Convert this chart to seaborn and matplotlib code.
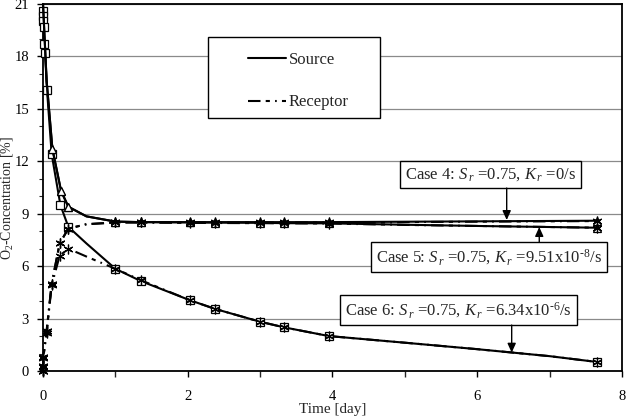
import numpy as np
import pandas as pd
import matplotlib
matplotlib.use("Agg")
import matplotlib.pyplot as plt
from matplotlib.lines import Line2D
from matplotlib.patches import Rectangle
from matplotlib.ticker import MultipleLocator
import seaborn as sns

# ---------------- data ----------------
# Case 6 source (squares)
t_c6_src = [0, 0.002, 0.004, 0.006, 0.008, 0.018, 0.028, 0.055, 0.12, 0.24, 0.35, 0.6,
            1.0, 1.35, 2.03, 2.38, 3.0, 3.33, 3.95, 5.0, 6.0, 7.0, 7.65]
o2_c6_src = [21.0, 20.6, 20.3, 20.0, 19.7, 18.7, 18.2, 16.1, 12.4, 9.5, 8.25, 7.3,
             5.85, 5.15, 4.05, 3.55, 2.82, 2.5, 2.0, 1.62, 1.25, 0.85, 0.52]
mk_c6_src = [False, True, True, True, True, True, True, True, True, True, True, False,
             True, True, True, True, True, True, True, False, False, False, True]

# Case 6 receptor (asterisks)
t_c6_rec = [0, 0.002, 0.004, 0.05, 0.12, 0.23, 0.35, 0.6, 1.0, 1.35, 2.03, 2.38,
            3.0, 3.33, 3.95, 5.0, 6.0, 7.0, 7.65]
o2_c6_rec = [0.0, 0.25, 0.75, 2.2, 4.9, 6.6, 7.0, 6.55, 5.85, 5.2, 4.05, 3.55,
             2.82, 2.5, 2.0, 1.62, 1.25, 0.85, 0.52]
mk_c6_rec = [True, True, True, True, True, True, True, False, True, True, True, True,
             True, True, True, False, False, False, True]

# Case 4 source (triangles)
t_c4_src = [0, 0.05, 0.13, 0.25, 0.35, 0.6, 1.0, 1.35, 2.03, 2.38, 3.0, 3.33, 3.95, 7.65]
o2_c4_src = [21.0, 16.6, 12.7, 10.3, 9.4, 8.85, 8.55, 8.52, 8.52, 8.52, 8.52, 8.52, 8.52, 8.6]
mk_c4_src = [False, False, True, True, True, False, True, True, True, True, True, True, True, True]

# Case 4 receptor (asterisks)
t_c4_rec = [0, 0.002, 0.004, 0.05, 0.12, 0.23, 0.35, 0.6, 1.0, 1.35, 2.03, 2.38, 3.0, 3.33, 3.95, 7.65]
o2_c4_rec = [0.0, 0.3, 0.8, 2.3, 5.0, 7.3, 8.15, 8.4, 8.5, 8.5, 8.5, 8.5, 8.5, 8.5, 8.5, 8.58]
mk_c4_rec = [True, True, True, True, True, True, True, False, True, True, True, True, True, True, True, True]

# Case 5 source (triangles)
t_c5_src = [0, 0.05, 0.13, 0.25, 0.35, 0.6, 1.0, 1.35, 2.03, 2.38, 3.0, 3.33, 3.95, 5.0, 6.0, 7.65]
o2_c5_src = [21.0, 16.6, 12.7, 10.3, 9.4, 8.85, 8.55, 8.52, 8.5, 8.49, 8.48, 8.46, 8.45, 8.37, 8.3, 8.2]
mk_c5_src = [False, False, True, True, True, False, True, True, True, True, True, True, True, False, False, True]

# Case 5 receptor (asterisks)
t_c5_rec = [0, 0.002, 0.004, 0.05, 0.12, 0.23, 0.35, 0.6, 1.0, 1.35, 2.03, 2.38, 3.0, 3.33, 3.95, 5.0, 6.0, 7.65]
o2_c5_rec = [0.0, 0.3, 0.8, 2.3, 5.0, 7.3, 8.15, 8.4, 8.5, 8.5, 8.48, 8.47, 8.46, 8.45, 8.44, 8.36, 8.3, 8.2]
mk_c5_rec = [True, True, True, True, True, True, True, False, True, True, True, True, True, True, True, False, False, True]

legend_labels = ["Source", "Receptor"]
case_labels = [
    "Case 4: $S_{\\,r}$ =0.75, $K_{\\,r}$ =0/s",
    "Case 5: $S_{\\,r}$ =0.75, $K_{\\,r}$ =9.51x10$^{\u20108}$/s",
    "Case 6: $S_{\\,r}$ =0.75, $K_{\\,r}$ =6.34x10$^{\u20106}$/s",
]
x_ticks = [0, 2, 4, 6, 8]
y_ticks = [0, 3, 6, 9, 12, 15, 18, 21]

# ---------------- style ----------------
sns.set_style("ticks")
plt.rcParams["font.family"] = ["Liberation Serif", "DejaVu Serif"]
plt.rcParams["mathtext.fontset"] = "custom"
plt.rcParams["mathtext.rm"] = "Liberation Serif"
plt.rcParams["mathtext.it"] = "Liberation Serif:italic"
plt.rcParams["mathtext.bf"] = "Liberation Serif:bold"

fig = plt.figure(figsize=(6.27, 4.18), dpi=100)
ax = fig.add_axes([0.0686, 0.1124, 0.9234, 0.878])

SRC_LS = "-"
REC_LS = (0, (6, 2.5, 2, 2.5, 0.8, 2.5))
LW = 1.5
ASTER = (6, 2, 0)

series = [
    (t_c6_src, o2_c6_src, mk_c6_src, SRC_LS, "s", 6.0),
    (t_c4_src, o2_c4_src, mk_c4_src, SRC_LS, "^", 6.0),
    (t_c5_src, o2_c5_src, mk_c5_src, SRC_LS, "^", 6.0),
    (t_c4_rec, o2_c4_rec, mk_c4_rec, REC_LS, ASTER, 7.0),
    (t_c5_rec, o2_c5_rec, mk_c5_rec, REC_LS, ASTER, 7.0),
    (t_c6_rec, o2_c6_rec, mk_c6_rec, REC_LS, ASTER, 7.0),
]
for t, y, mk, ls, marker, ms in series:
    df = pd.DataFrame({"t": t, "y": y})
    sns.lineplot(data=df, x="t", y="y", ax=ax, estimator=None, sort=False,
                 color="black", lw=LW, linestyle=ls, marker=marker,
                 markevery=mk, ms=ms, mfc="white", mec="black", mew=0.9,
                 clip_on=False, zorder=3)

ax.set_xlim(0, 8)
ax.set_ylim(0, 21)
ax.set_xticks(x_ticks)
ax.set_yticks(y_ticks)
ax.xaxis.set_minor_locator(MultipleLocator(1))
ax.yaxis.set_minor_locator(MultipleLocator(1))
ax.tick_params(axis="x", which="major", direction="out", length=4, width=1,
               labelsize=10.5, colors="black", pad=10)
ax.tick_params(axis="y", which="major", direction="out", length=4, width=1,
               labelsize=10.5, colors="black", pad=6)
ax.tick_params(axis="x", which="minor", direction="out", length=4, width=1)
ax.tick_params(axis="y", which="minor", direction="out", length=3, width=0.8)
ax.yaxis.grid(True, which="major", color="#8a8a8a", lw=0.9)
ax.xaxis.grid(False)
ax.set_axisbelow(True)
for sp in ax.spines.values():
    sp.set_visible(True)
    sp.set_color("black")
    sp.set_linewidth(1.3)

ax.set_xlabel("Time [day]", fontsize=11, va="top")
ax.xaxis.set_label_coords(0.5, -0.087)
ax.set_ylabel("O$_2$-Concentration [%]", fontsize=10, va="center")
ax.yaxis.set_label_coords(-0.063, 0.47)

# legend
handles = [Line2D([], [], color="black", lw=LW, linestyle=SRC_LS),
           Line2D([], [], color="black", lw=LW, linestyle=REC_LS)]
ax.add_patch(Rectangle((0.285, 0.689), 0.297, 0.221, transform=ax.transAxes,
                       fc="white", ec="black", lw=1.0, zorder=4))
leg = ax.legend(handles, legend_labels, loc="center left",
                bbox_to_anchor=(0.354, 0.79), frameon=False, fontsize=12,
                handlelength=2.3, handletextpad=0.15, labelspacing=1.6,
                borderpad=0, borderaxespad=0)
leg.set_zorder(5)

# annotations
box = dict(boxstyle="square,pad=0.3", fc="white", ec="black", lw=1.0)
text_pos = [(6.183, 11.24), (6.169, 6.52), (5.741, 3.49)]
arrow_from = [(6.407, 10.47), (6.857, 7.36), (6.476, 2.63)]
arrow_to = [(6.407, 8.64), (6.857, 8.24), (6.476, 1.05)]
for lab, (tx, ty), a0, a1 in zip(case_labels, text_pos, arrow_from, arrow_to):
    ax.text(tx, ty, lab, ha="center", va="center", fontsize=12, bbox=box, zorder=6)
    ax.annotate("", xy=a1, xytext=a0,
                arrowprops=dict(arrowstyle="-|>,head_length=0.55,head_width=0.25",
                                color="black", lw=1.0, shrinkA=0, shrinkB=0),
                zorder=6)

fig.savefig("out.png", dpi=100)
